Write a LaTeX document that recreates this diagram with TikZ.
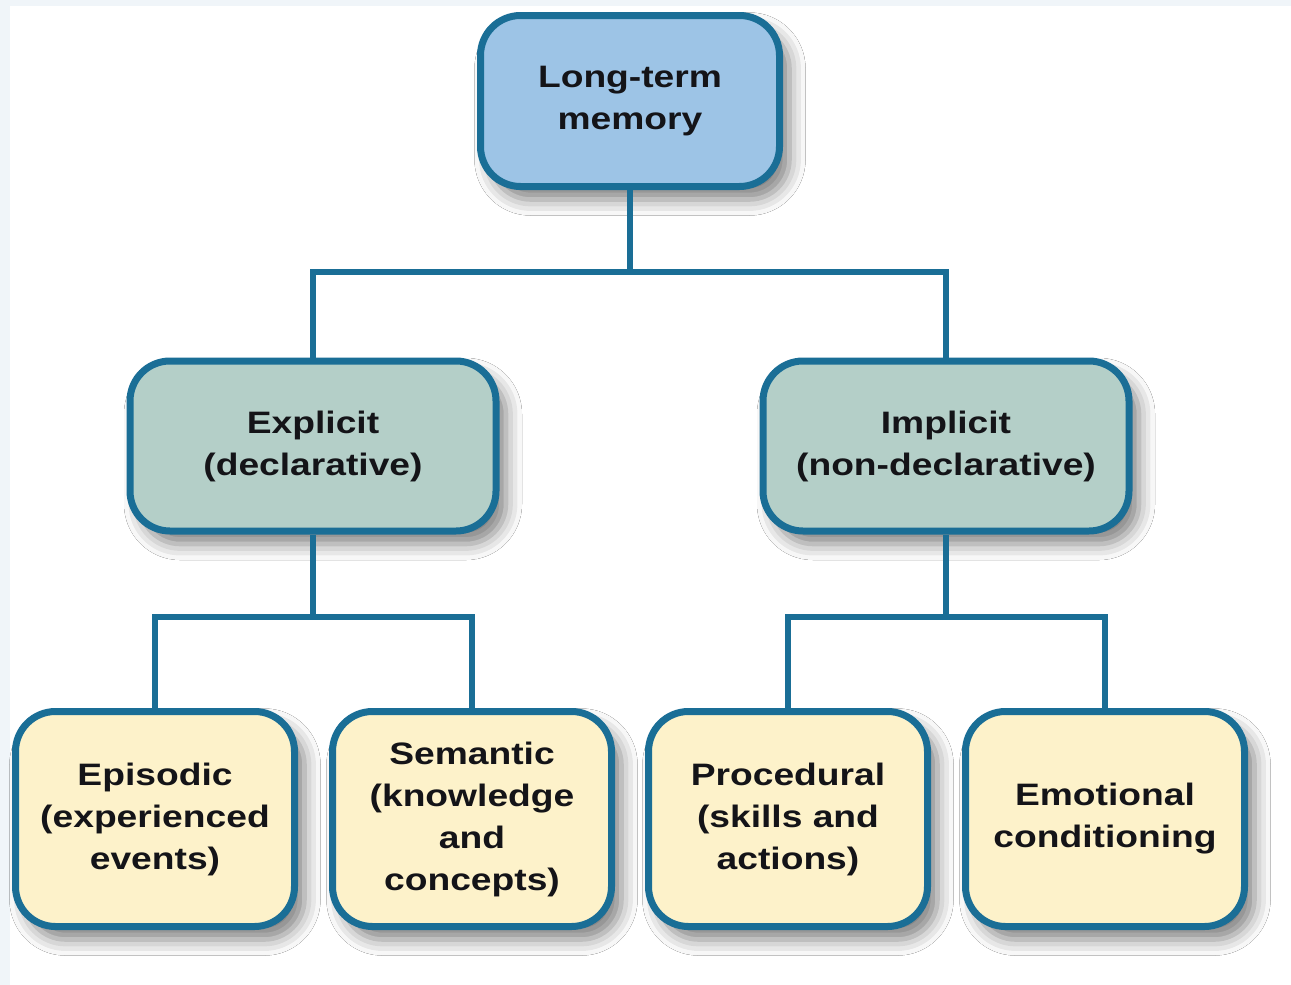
\documentclass[tikz,border=0pt]{standalone}
\usepackage{fontspec}
\setmainfont{Liberation Sans}[FakeStretch=1.2]
\usetikzlibrary{shadows.blur}
\definecolor{bordc}{RGB}{26,110,150}
\definecolor{topfill}{RGB}{157,196,230}
\definecolor{midfill}{RGB}{180,207,200}
\definecolor{botfill}{RGB}{253,242,202}
\definecolor{edgebg}{RGB}{240,245,249}
\definecolor{txt}{RGB}{20,20,24}
\begin{document}
\begin{tikzpicture}[x=1pt,y=-1pt,
  box/.style={draw=bordc, line width=7pt, rounded corners=40pt, align=center,
    font=\fontsize{31}{42}\selectfont\bfseries, text=txt, inner sep=0pt,
    blur shadow={shadow xshift=10pt, shadow yshift=-13pt, shadow blur radius=16pt, shadow opacity=50}},
  topbox/.style={box, fill=topfill, minimum width=299pt, minimum height=171pt},
  midbox/.style={box, fill=midfill, minimum width=366pt, minimum height=170pt},
  botbox/.style={box, fill=botfill, minimum width=279pt, minimum height=215pt},
  conn/.style={draw=bordc, line width=6pt}]
\fill[edgebg] (0,0) rectangle (1291,985);
\fill[white] (10,6) rectangle (1291,985);
\useasboundingbox (0,0) rectangle (1291,985);

\node[topbox] (ltm) at (630,101) {Long-term\\memory};
\node[midbox] (exp) at (313,446) {Explicit\\(declarative)};
\node[midbox] (imp) at (946,446) {Implicit\\(non-declarative)};
\node[botbox] (epi) at (155,819) {Episodic\\(experienced\\events)};
\node[botbox] (sem) at (472,819) {Semantic\\(knowledge\\and\\concepts)};
\node[botbox] (pro) at (788,819) {Procedural\\(skills and\\actions)};
\node[botbox] (emo) at (1105,819) {Emotional\\conditioning};

\coordinate (j1) at (630,272);
\coordinate (j2) at (313,617);
\coordinate (j3) at (946,617);

\draw[conn] (ltm.south) -- (j1);
\draw[conn] (exp.north) |- (j1) -| (imp.north);
\draw[conn] (exp.south) -- (j2);
\draw[conn] (epi.north) |- (j2) -| (sem.north);
\draw[conn] (imp.south) -- (j3);
\draw[conn] (pro.north) |- (j3) -| (emo.north);
\end{tikzpicture}
\end{document}
